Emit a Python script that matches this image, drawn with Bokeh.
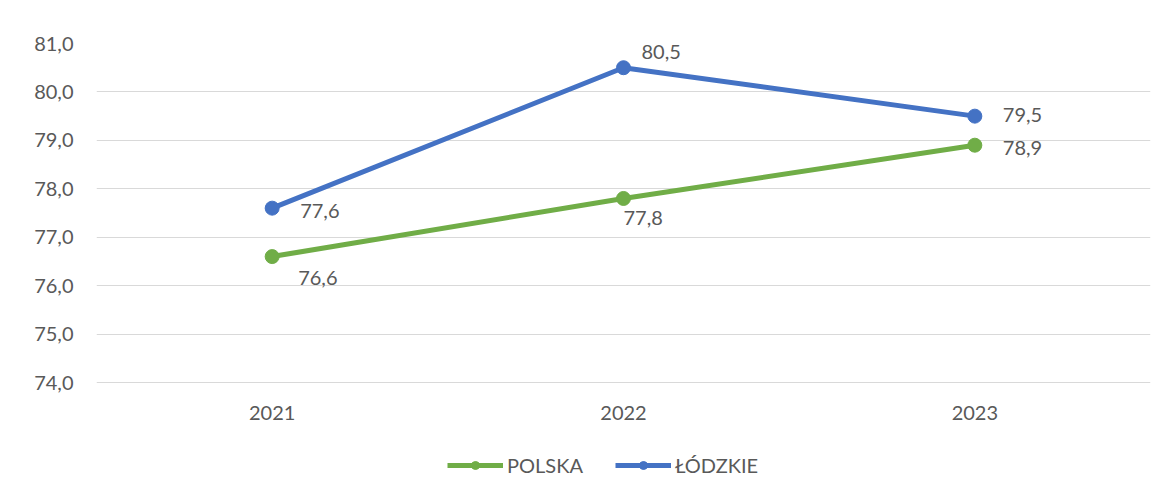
from bokeh.plotting import figure
from bokeh.models import (Range1d, FactorRange, FixedTicker, Legend, LegendItem,
                          LabelSet, ColumnDataSource)
from bokeh.core.properties import value
from bokeh.embed import file_html
from bokeh.resources import INLINE

years = ["2021", "2022", "2023"]
polska = [76.6, 77.8, 78.9]
lodzkie = [77.6, 80.5, 79.5]
series_names = ["POLSKA", "ŁÓDZKIE"]
y_ticks = [74, 75, 76, 77, 78, 79, 80, 81]
y_tick_labels = ["74,0", "75,0", "76,0", "77,0", "78,0", "79,0", "80,0", "81,0"]

GREEN = "#70AD47"
BLUE = "#4472C4"
TXT = "#595959"
FONT = "Lato"

# layout in pixels
W, H = 1160, 490
TOP, LEFT, RIGHT = 43, 96, 10
GRID_BOTTOM = 382          # pixel row of the lowest gridline
px_per_unit = (GRID_BOTTOM - TOP) / (y_ticks[-1] - y_ticks[0])
y_start = y_ticks[0] - (H - GRID_BOTTOM) / px_per_unit

p = figure(width=W, height=H, x_range=FactorRange(*years),
           y_range=Range1d(y_start, y_ticks[-1]), output_backend="svg",
           toolbar_location=None, min_border_left=LEFT, min_border_right=RIGHT,
           min_border_top=TOP, min_border_bottom=0)
p.outline_line_color = None
p.background_fill_color = "white"
p.border_fill_color = "white"

p.xgrid.grid_line_color = None
p.ygrid.grid_line_color = "#D9D9D9"
p.ygrid.grid_line_width = 1
p.yaxis.ticker = FixedTicker(ticks=y_ticks)
p.yaxis.major_label_overrides = {t: l for t, l in zip(y_ticks, y_tick_labels)}
p.yaxis.axis_line_color = None
p.yaxis.major_tick_line_color = None
p.yaxis.minor_tick_line_color = None
p.yaxis.major_tick_out = 0
p.yaxis.major_tick_in = 0
p.yaxis.major_label_text_font = FONT
p.yaxis.major_label_text_font_size = "20px"
p.yaxis.major_label_text_color = TXT
p.yaxis.major_label_standoff = 23
p.xaxis.visible = False

# category labels under the lowest gridline
src_x = ColumnDataSource(dict(x=years, y=[y_ticks[0]] * len(years), t=years))
p.add_layout(LabelSet(x="x", y="y", text="t", source=src_x, y_offset=-30,
                      text_align="center", text_baseline="middle",
                      text_font=value(FONT), text_font_size="20px",
                      text_color=TXT))

pol_dx = [26, 0, 28]
pol_dy = [-21, -20, -3]
lod_dx = [28, 18, 28]
lod_dy = [-3, 16, 1]

src_p = ColumnDataSource(dict(x=years, y=polska,
                              t=[f"{v:.1f}".replace(".", ",") for v in polska],
                              dx=pol_dx, dy=pol_dy))
src_l = ColumnDataSource(dict(x=years, y=lodzkie,
                              t=[f"{v:.1f}".replace(".", ",") for v in lodzkie],
                              dx=lod_dx, dy=lod_dy))
lp = p.line("x", "y", source=src_p, line_color=GREEN, line_width=5)
cp = p.scatter("x", "y", source=src_p, size=14, fill_color=GREEN, line_color=GREEN)
ll = p.line("x", "y", source=src_l, line_color=BLUE, line_width=5)
cl = p.scatter("x", "y", source=src_l, size=14, fill_color=BLUE, line_color=BLUE)

for src in (src_p, src_l):
    p.add_layout(LabelSet(x="x", y="y", text="t", source=src,
                          x_offset="dx", y_offset="dy", text_align="left",
                          text_baseline="middle", text_font=value(FONT),
                          text_font_size="20px", text_color=TXT))

legend = Legend(items=[LegendItem(label=series_names[0], renderers=[lp, cp]),
                       LegendItem(label=series_names[1], renderers=[ll, cl])],
                orientation="horizontal", location=(351, 13),
                glyph_width=56, glyph_height=20, label_standoff=4, spacing=32,
                label_text_font=FONT, label_text_font_size="20px",
                label_text_color=TXT, border_line_color=None,
                background_fill_alpha=0, margin=0, padding=0)
p.add_layout(legend)

open("out.html", "w").write(file_html(p, INLINE))
